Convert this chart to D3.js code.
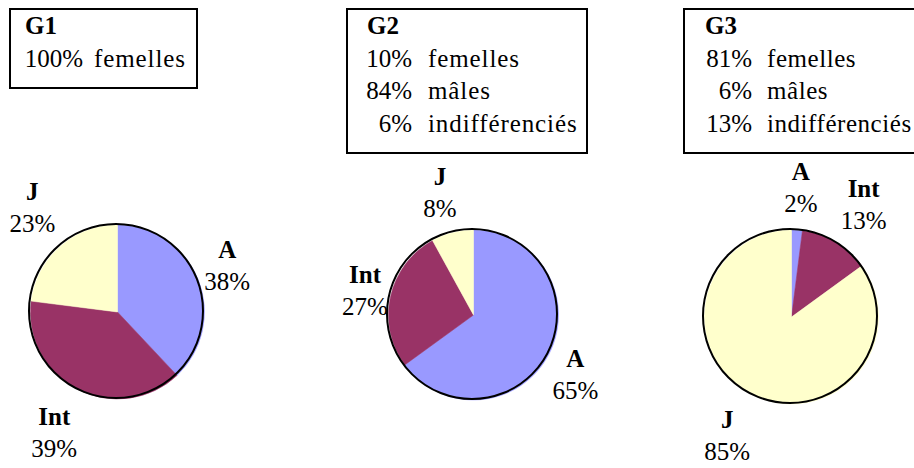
<!DOCTYPE html>
<html>
<head>
<meta charset="utf-8">
<script src="https://cdn.jsdelivr.net/npm/d3@7/dist/d3.min.js"></script>
<style>
  html, body { margin: 0; padding: 0; background: #ffffff; }
  svg { display: block; }
</style>
</head>
<body>
<svg id="chart" width="914" height="468"></svg>
<script>
// Age classes shown in every pie, and their fill colours
const classes = ["A", "Int", "J"];
const classColors = ["#9999ff", "#993366", "#ffffcc"];

// Group names
const groups = ["G1", "G2", "G3"];

// Share (%) of each age class per group: A, Int, J
const g1Values = [38, 39, 23];
const g2Values = [65, 27, 8];
const g3Values = [2, 13, 85];

// Sex composition per group, as written in the boxes above the pies
const sexLabels = ["femelles", "mâles", "indifférenciés"];
const g1Sex = [100];
const g2Sex = [10, 84, 6];
const g3Sex = [81, 6, 13];

const groupValues = [g1Values, g2Values, g3Values];
const groupSex = [g1Sex, g2Sex, g3Sex];

// ---- layout ----
const W = 914, H = 468;
const FONT_FAMILY = "Liberation Serif";
const FONT = 25;
const WORD_SPACING = ["0.9px", "0.9px", "0.55px"];
const LINE = 32.5;
const pieCenters = [[116, 311], [472, 314], [790, 316]];
const pieRadius = [87, 85, 87];
const labelDist = 125;
// small nudges that push each data label clear of its neighbours
const labelNudge = [
  [[-5, 0], [-5, 10], [-1, -10]],
  [[-8, 4], [15, 4], [-1, 0]],
  [[3, -4], [10, -4], [-6, 8]]
];
// info boxes: [x, y, w, h, titleX, percentRightX, wordX]
const boxes = [
  [10, 9, 187, 79, 25, 83, 94],
  [347, 9, 240, 144, 367, 412, 428],
  [684, 9, 240, 144, 705, 752, 767]
];

const svg = d3.select("#chart");
svg.append("rect").attr("width", W).attr("height", H).attr("fill", "#fff");

function addText(parent, x, y, str, opts = {}) {
  return parent.append("text")
    .attr("x", x).attr("y", y)
    .attr("text-anchor", opts.anchor || "start")
    .style("font-family", FONT_FAMILY)
    .style("font-size", FONT + "px")
    .style("font-weight", opts.bold ? "bold" : "normal")
    .style("letter-spacing", opts.spacing || "0px")
    .style("fill", "#000")
    .text(str);
}

const pie = d3.pie().sort(null).value(d => d);

groups.forEach((name, gi) => {
  // ---- info box ----
  const [bx, by, bw, bh, tx, px, wx] = boxes[gi];
  const box = svg.append("g");
  box.append("rect")
    .attr("x", bx).attr("y", by).attr("width", bw).attr("height", bh)
    .attr("fill", "#fff").attr("stroke", "#000").attr("stroke-width", 2);
  addText(box, tx, 34, name, { bold: true });
  groupSex[gi].forEach((v, i) => {
    const y = 34 + LINE * (i + 1);
    addText(box, px, y, v + "%", { anchor: "end" });
    addText(box, wx, y, sexLabels[i], { spacing: WORD_SPACING[gi] });
  });

  // ---- pie ----
  const [cx, cy] = pieCenters[gi];
  const r = pieRadius[gi];
  const arcs = pie(groupValues[gi]);
  const arc = d3.arc().innerRadius(0).outerRadius(r);
  const labelArc = d3.arc().innerRadius(labelDist).outerRadius(labelDist);

  // slice fills, sitting a touch right/down of the outline
  const fills = svg.append("g").attr("transform", `translate(${cx + 1.5},${cy + 1})`);
  fills.selectAll("path")
    .data(arcs)
    .join("path")
    .attr("d", arc)
    .attr("fill", (d, i) => classColors[i])
    .attr("stroke", (d, i) => classColors[i])
    .attr("stroke-width", 0.5);

  svg.append("circle")
    .attr("cx", cx).attr("cy", cy).attr("r", r)
    .attr("fill", "none").attr("stroke", "#000").attr("stroke-width", 2);

  // data labels: class name (bold) above its percentage
  const labels = svg.append("g").attr("transform", `translate(${cx},${cy})`);
  arcs.forEach((d, i) => {
    const [lx, ly] = labelArc.centroid(d);
    const [nx, ny] = labelNudge[gi][i];
    const x = lx + nx, y = ly + ny;
    addText(labels, x, y - 7.5, classes[i], { bold: true, anchor: "middle" });
    addText(labels, x, y + 24.5, d.data + "%", { anchor: "middle" });
  });
});
</script>
</body>
</html>
